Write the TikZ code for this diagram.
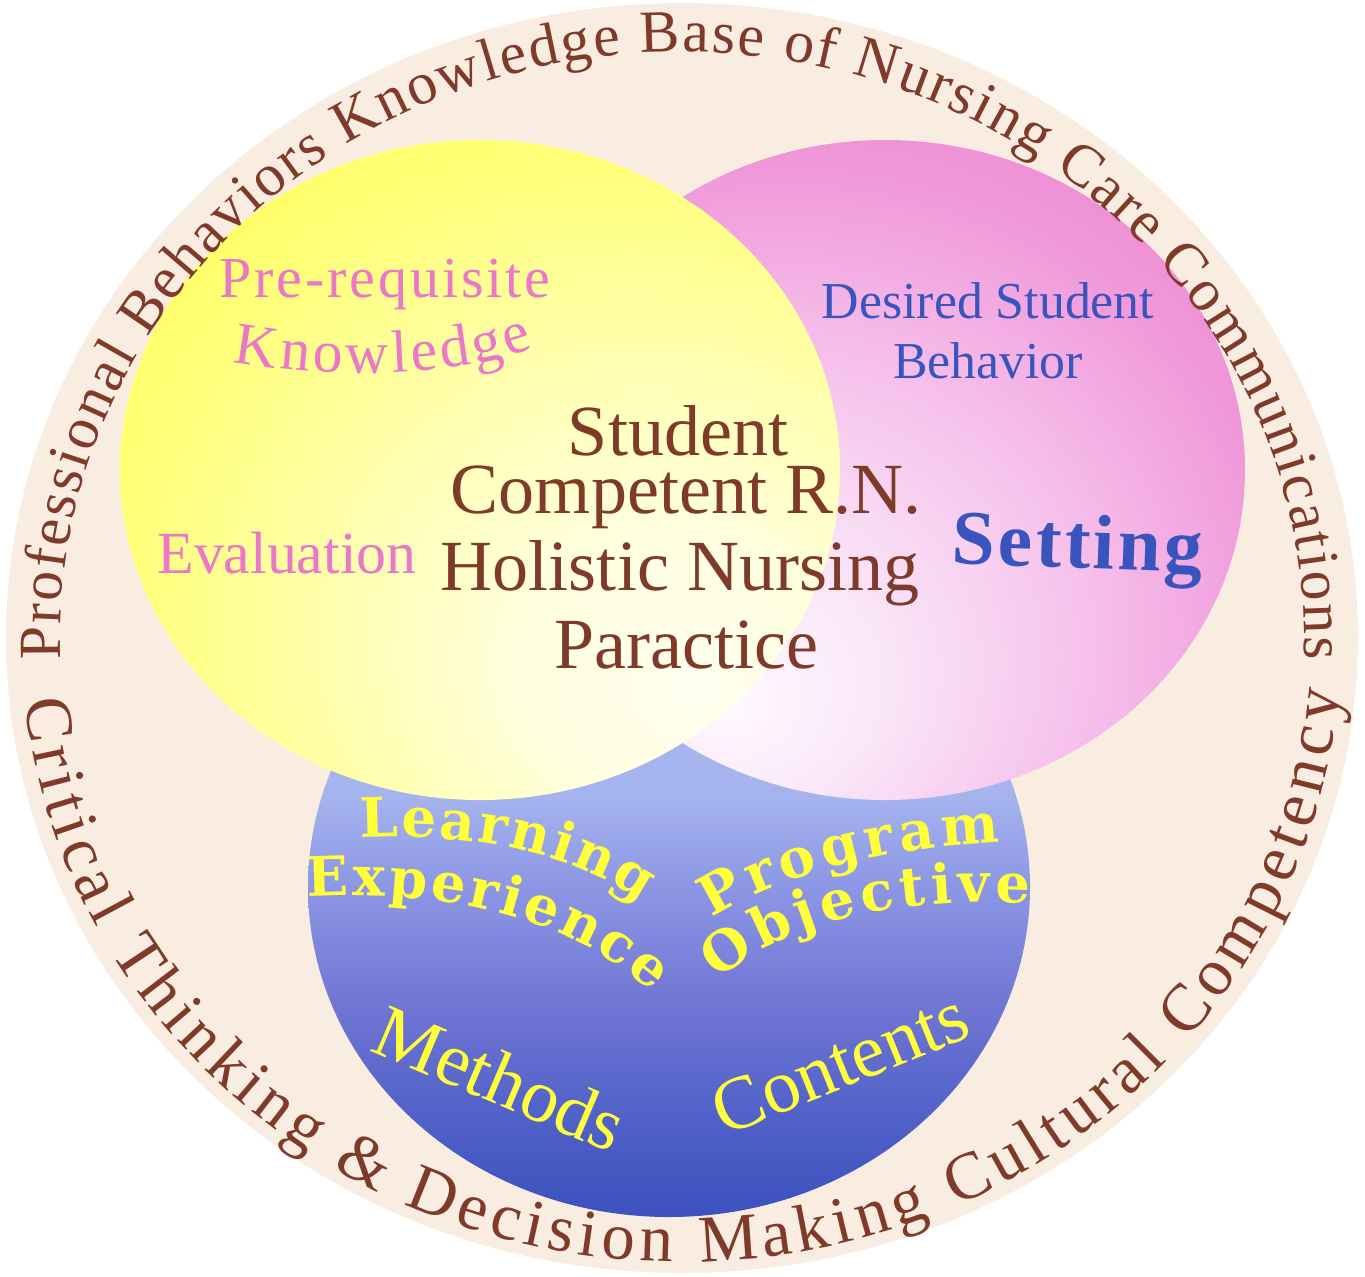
\documentclass[tikz,border=0pt]{standalone}
\usepackage{fontspec}
\usetikzlibrary{positioning,decorations.text}

\setmainfont{Liberation Serif}
\newfontfamily\slabfont{DejaVu Serif}

\definecolor{ringbg}{RGB}{249,237,226}
\definecolor{brownink}{RGB}{128,58,42}
\definecolor{pinkink}{RGB}{236,118,200}
\definecolor{blueink}{RGB}{58,84,190}
\definecolor{yellowink}{RGB}{255,255,60}

\pgfdeclareradialshading{yellowglow}{\pgfpoint{15bp}{-17bp}}{%
  rgb(0bp)=(1,1,0.94); rgb(10bp)=(1,1,0.88); rgb(22bp)=(1,1,0.68);
  rgb(35bp)=(1,1,0.46); rgb(48bp)=(1,1,0.3); rgb(90bp)=(1,1,0.3)}
\pgfdeclareradialshading{pinkglow}{\pgfpoint{-11bp}{-18bp}}{%
  rgb(0bp)=(1,0.98,1); rgb(10bp)=(0.98,0.9,0.97); rgb(22bp)=(0.965,0.76,0.925);
  rgb(34bp)=(0.94,0.6,0.855); rgb(44bp)=(0.925,0.5,0.8); rgb(90bp)=(0.925,0.5,0.8)}
\pgfdeclareverticalshading{bluefade}{100bp}{%
  rgb(0bp)=(0.235,0.32,0.745); rgb(25bp)=(0.235,0.32,0.745); rgb(33bp)=(0.32,0.385,0.785);
  rgb(41bp)=(0.44,0.46,0.83); rgb(50bp)=(0.55,0.59,0.895); rgb(57bp)=(0.65,0.705,0.935);
  rgb(100bp)=(0.73,0.78,0.96)}

\newcommand\ringtopfont{\fontsize{34}{36}\selectfont\color{brownink}}
\newcommand\ringbotfont{\fontsize{38}{40}\selectfont\color{brownink}}
\newcommand\arcpinkfont{\fontsize{34}{36}\selectfont\color{pinkink}}
\newcommand\arcyellowfont{\slabfont\bfseries\fontsize{31}{33}\selectfont\color{yellowink}}

\begin{document}
\begin{tikzpicture}[x=0.02cm, y=0.02cm,
  brownline/.style={text=brownink, font=\fontsize{41}{43}\selectfont, anchor=base, inner sep=0pt},
  pinklabel/.style={text=pinkink, anchor=base, inner sep=0pt},
  bluelabel/.style={text=blueink, anchor=base, inner sep=0pt},
  yellowlabel/.style={text=yellowink, font=\fontsize{43}{45}\selectfont, inner sep=0pt},
  arctext/.style={decorate, decoration={text along path, text align={fit to path}, text={#1}}}]
\useasboundingbox (0,-1277) rectangle (1365,0);

% discs
\fill[ringbg] (682,-638) ellipse[x radius=676, y radius=635];
\shade[shading=bluefade] (669,-887) ellipse[x radius=361, y radius=330];
\shade[shading=pinkglow] (885,-470) ellipse[x radius=360, y radius=330];
\shade[shading=yellowglow] (480,-470) ellipse[x radius=360, y radius=330];

% outer ring
\path[arctext={|\ringtopfont|Professional Behaviors Knowledge Base of Nursing Care Communications}]
  (682,-639) ++(182:622 and 587) arc[start angle=182, end angle=-2, x radius=622, y radius=587];
\path[arctext={|\ringbotfont|Critical Thinking {\&} Decision Making Cultural Competency}]
  (682,-639) ++(185.7:660 and 623) arc[start angle=185.7, end angle=355.2, x radius=660, y radius=623];

% centre
\node[brownline] (student) at (678,-455) {Student};
\node[brownline] (competent) at (686,-513) {Competent R.N.};
\node[brownline] (holistic) at (680,-590) {Holistic Nursing};
\node[brownline] (practice) at (686,-668) {Paractice};

% yellow disc
\node[pinklabel, font=\fontsize{33}{35}\selectfont\addfontfeatures{LetterSpace=5}] (prereq) at (385,-297) {Pre-requisite};
\path[arctext={|\arcpinkfont|Knowledge}] (233,-362) .. controls (330,-380) and (460,-377) .. (533,-348);
\node[pinklabel, font=\fontsize{34}{36}\selectfont] (evaluation) at (287,-573) {Evaluation};

% pink disc
\node[bluelabel, font=\fontsize{29.5}{31}\selectfont] (desired) at (988,-318) {Desired Student};
\node[bluelabel, font=\fontsize{29.5}{31}\selectfont] (behavior) at (988,-378) {Behavior};
\node[bluelabel, font=\fontsize{44}{46}\selectfont\bfseries\addfontfeatures{LetterSpace=4}, rotate=-2] (setting) at (1077,-568) {Setting};

% blue disc
\path[arctext={|\arcyellowfont|Learning}] (360,-838) .. controls (470,-832) and (570,-852) .. (642,-902);
\path[arctext={|\arcyellowfont|Experience}] (308,-897) .. controls (430,-890) and (560,-910) .. (652,-992);
\path[arctext={|\arcyellowfont|Program}] (712,-918) .. controls (780,-875) and (880,-848) .. (1000,-842);
\path[arctext={|\arcyellowfont|Objective}] (718,-980) .. controls (790,-918) and (900,-898) .. (1030,-903);
\node[yellowlabel, rotate=-23] (methods) at (500,-1078) {Methods};
\node[yellowlabel, rotate=22] (contents) at (840,-1063) {Contents};
\end{tikzpicture}
\end{document}
